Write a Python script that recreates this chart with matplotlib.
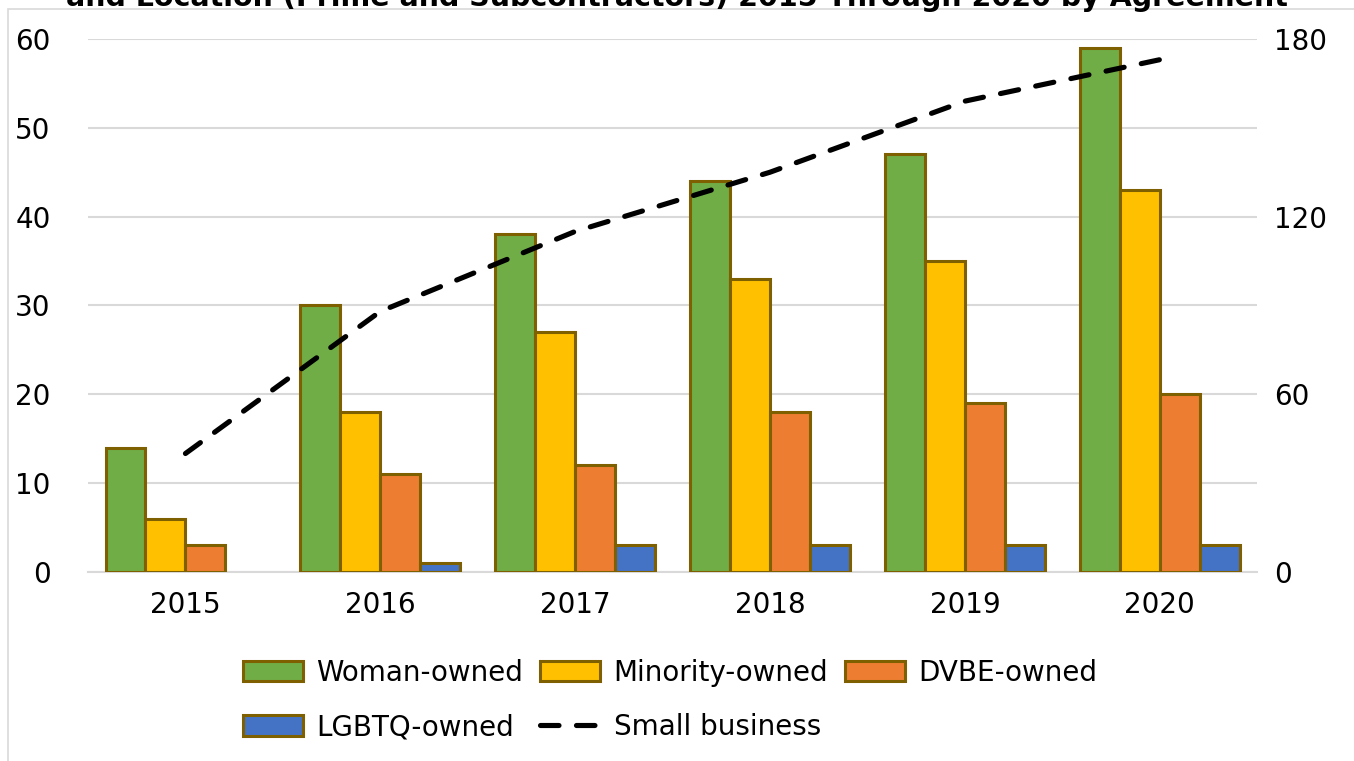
import matplotlib
matplotlib.use('Agg')
import matplotlib.pyplot as plt
import matplotlib.patches as mpatches
import numpy as np

years = ['2015', '2016', '2017', '2018', '2019', '2020']
woman = [14, 30, 38, 44, 47, 59]
minority = [6, 18, 27, 33, 35, 43]
dvbe = [3, 11, 12, 18, 19, 20]
lgbtq = [0, 1, 3, 3, 3, 3]
small = [40, 88, 115, 135, 159, 173]

series = [('Woman-owned', woman, '#70AD47'),
          ('Minority-owned', minority, '#FFC000'),
          ('DVBE-owned', dvbe, '#ED7D31'),
          ('LGBTQ-owned', lgbtq, '#4472C4')]

plt.rcParams['font.family'] = ['DejaVu Sans']

fig = plt.figure(figsize=(13.54, 7.61), dpi=100)
ax = fig.add_axes([0.065, 0.2484, 0.8635, 0.7004])
ax2 = ax.twinx()

x = np.arange(len(years))
w = 0.205
handles = {}
for i, (name, vals, col) in enumerate(series):
	b = ax.bar(x + (i - 1.5) * w, vals, w, color=col, edgecolor='#7F6000', linewidth=2.2,
	           zorder=3)
	# excel draws nothing for an empty value
	for r, v in zip(b, vals):
		if v == 0:
			r.set_visible(False)
	handles[name] = mpatches.Patch(facecolor=col, edgecolor='#7F6000', linewidth=2.2)

ln, = ax2.plot(x, small, color='black', linewidth=3.7, linestyle=(0, (3.6, 3.4)),
               dash_capstyle='round', zorder=4)
handles['Small business'] = ln

ax.set_xlim(-0.5, len(years) - 0.5)
ax.set_ylim(0, 60)
ax.set_yticks(range(0, 61, 10))
ax2.set_ylim(0, 180)
ax2.set_yticks(range(0, 181, 60))
ax.set_xticks(x)
ax.set_xticklabels(years)

ax.grid(axis='y', color='#D9D9D9', linewidth=1.5, zorder=0)
ax.set_axisbelow(True)
for a in (ax, ax2):
	for s in a.spines.values():
		s.set_visible(False)
	a.tick_params(length=0, labelsize=20)
ax.spines['bottom'].set_visible(True)
ax.spines['bottom'].set_color('#D9D9D9')
ax.spines['bottom'].set_linewidth(1.5)
ax.tick_params(axis='y', pad=27)
ax.tick_params(axis='x', pad=14)
ax2.tick_params(axis='y', pad=12)

order = ['Woman-owned', 'LGBTQ-owned', 'Minority-owned', 'Small business', 'DVBE-owned']
fig.legend([handles[k] for k in order], order, ncol=3, loc='center',
           bbox_to_anchor=(0.495, 0.08), frameon=False, fontsize=20,
           handlelength=2.15, handleheight=0.75, handletextpad=0.5,
           columnspacing=0.6, labelspacing=0.95)

# chart frame (partly outside the picture)
fig.patches.append(mpatches.Rectangle((8 / 1354, -0.05), 1.2, 1.05 - 9 / 761,
                                      transform=fig.transFigure, fill=False,
                                      edgecolor='#D9D9D9', linewidth=1.2))

# title, cut off at the top
fig.text(0.5, 1 - 6 / 761, 'and Location (Prime and Subcontractors) 2015 Through 2020 by Agreement',
         ha='center', va='baseline', fontsize=20.5, fontweight='bold')

fig.savefig('out.png', dpi=100)
